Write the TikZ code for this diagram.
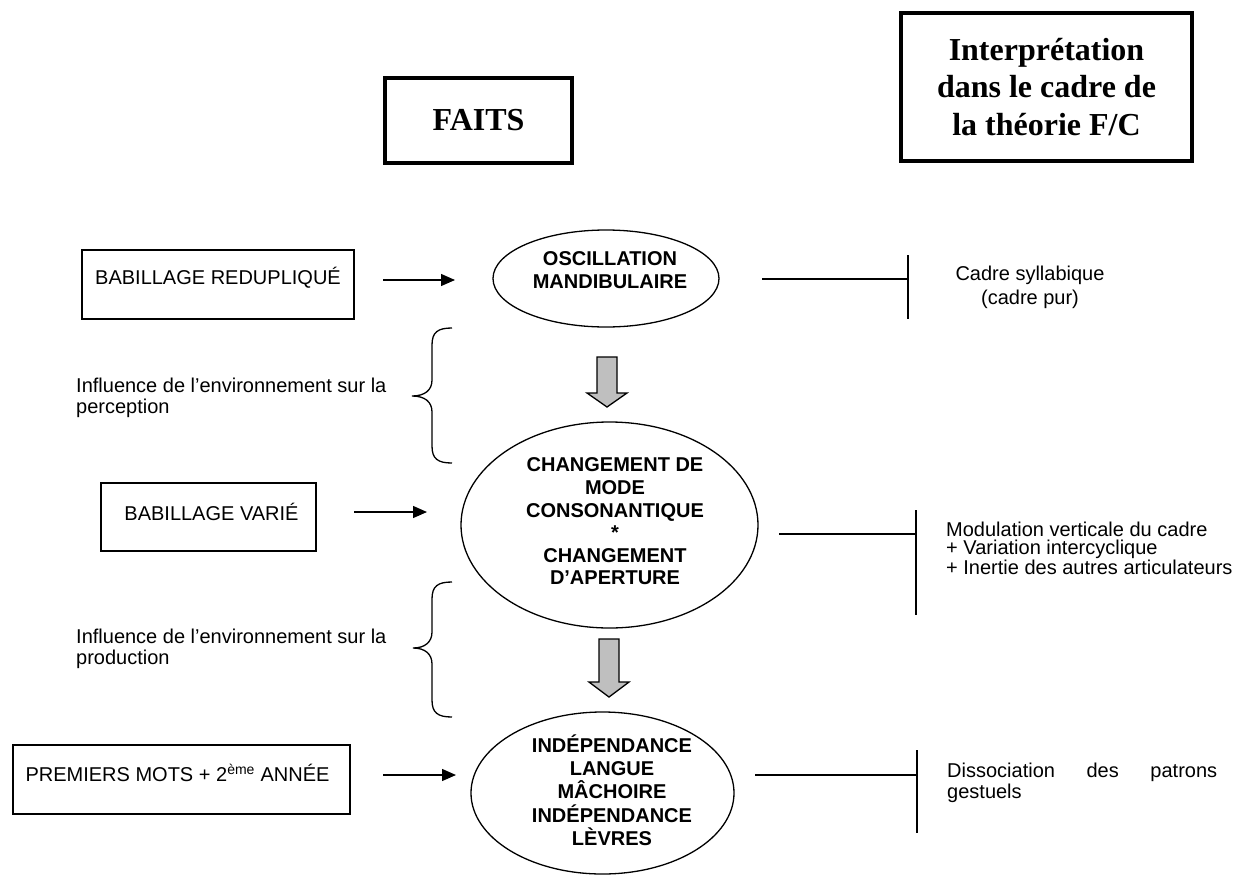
\documentclass[tikz,border=0pt]{standalone}
\usepackage{fontspec}
\setmainfont{Liberation Sans}
\newfontfamily\titlefont{Liberation Serif}
\usetikzlibrary{shapes.geometric,arrows.meta}
\begin{document}
\begin{tikzpicture}[x=1pt,y=-1pt,
  txt/.style={font=\fontsize{20}{21}\selectfont, inner sep=0pt},
  btxt/.style={font=\fontsize{20}{23}\selectfont\bfseries, inner sep=0pt, align=center},
  factbox/.style={draw, line width=1.3pt, inner sep=0pt},
  titlebox/.style={draw, line width=3.5pt, inner sep=0pt, font=\titlefont\bfseries\fontsize{32}{37.5}\selectfont, align=center},
  oval/.style={draw, ellipse, line width=1.3pt, inner sep=0pt},
  arr/.style={line width=1.3pt, -{Triangle[length=14pt,width=12pt]}},
  tline/.style={line width=1.3pt},
  tbar/.style={line width=1.8pt},
  bigarrow/.style={draw, line width=1.3pt, fill=black!25},
  bracestyle/.style={line width=1.3pt}
]
\useasboundingbox[fill=white] (0,0) rectangle (1235,876);

% titles
\node[titlebox, minimum width=187pt, minimum height=85pt] (faits) at (478.5,120.5) {FAITS};
\node[titlebox, minimum width=291pt, minimum height=148pt] (interp) at (1046.5,87) {Interprétation\\dans le cadre de\\la théorie F/C};

% left boxes
\node[factbox, minimum width=272pt, minimum height=69pt] (b1) at (218,284.5) {};
\node[txt] (b1t) at (218,278) {BABILLAGE REDUPLIQUÉ};
\node[factbox, minimum width=215pt, minimum height=68pt] (b2) at (208.5,517) {};
\node[txt] (b2t) at (211.5,512) {BABILLAGE VARIÉ};
\node[factbox, minimum width=337pt, minimum height=69pt] (b3) at (181.5,779.5) {};
\node[txt] (b3t) at (177.5,773) {PREMIERS MOTS + 2\textsuperscript{ème} ANNÉE};

% ellipses
\node[oval, minimum width=226pt, minimum height=97pt] (e1) at (606,278.5) {};
\node[btxt] (e1t) at (610,270.5) {OSCILLATION\\MANDIBULAIRE};
\node[oval, minimum width=297pt, minimum height=206pt] (e2) at (609.5,525) {};
\node[btxt, font=\fontsize{20}{22.6}\selectfont\bfseries] (e2t) at (615,521.5) {CHANGEMENT DE\\MODE\\CONSONANTIQUE\\*\\CHANGEMENT\\D’APERTURE};
\node[oval, minimum width=263pt, minimum height=162pt] (e3) at (602.5,793) {};
\node[btxt, font=\fontsize{20}{23.3}\selectfont\bfseries] (e3t) at (612,790) {INDÉPENDANCE\\LANGUE\\MÂCHOIRE\\INDÉPENDANCE\\LÈVRES};

% influence texts
\node[txt, anchor=west, align=left] (inf1) at (76,397.5) {Influence de l’environnement sur la\\perception};
\node[txt, anchor=west, align=left] (inf2) at (76,649) {Influence de l’environnement sur la\\production};

% right texts
\node[txt, align=center, font=\fontsize{20}{24}\selectfont] (r1t) at (1030,287) {Cadre syllabique\\(cadre pur)};
\node[txt, anchor=west, align=left, font=\fontsize{20}{18.5}\selectfont] (r2t) at (946,548) {Modulation verticale du cadre\\+ Variation intercyclique\\+ Inertie des autres articulateurs};
\node[txt, anchor=west, align=left] (r3t) at (947,782.5) {\makebox[270pt][s]{Dissociation\hfill des\hfill patrons}\\gestuels};

% horizontal arrows
\coordinate (a1s) at (383,280); \coordinate (a1e) at (455,280);
\coordinate (a2s) at (354,512); \coordinate (a2e) at (427,512);
\coordinate (a3s) at (383,775); \coordinate (a3e) at (456,775);
\draw[arr] (a1s) -- (a1e);
\draw[arr] (a2s) -- (a2e);
\draw[arr] (a3s) -- (a3e);

% right T connectors
\coordinate (t1s) at (762,279); \coordinate (t1e) at (908,279);
\coordinate (t1a) at (908,255); \coordinate (t1b) at (908,319);
\coordinate (t2s) at (779,534); \coordinate (t2e) at (916,534);
\coordinate (t2a) at (916,510); \coordinate (t2b) at (916,615);
\coordinate (t3s) at (755,775); \coordinate (t3e) at (917,775);
\coordinate (t3a) at (917,750); \coordinate (t3b) at (917,833);
\draw[tline] (t1s) -- (t1e); \draw[tbar] (t1a) -- (t1b);
\draw[tline] (t2s) -- (t2e); \draw[tbar] (t2a) -- (t2b);
\draw[tline] (t3s) -- (t3e); \draw[tbar] (t3a) -- (t3b);

% block arrows
\draw[bigarrow] (597,357) -- (617,357) -- (617,393) -- (627,393) -- (607,407) -- (587,393) -- (597,393) -- cycle;
\draw[bigarrow] (599,639) -- (619,639) -- (619,682) -- (629,682) -- (609,697) -- (589,682) -- (599,682) -- cycle;

% braces
\draw[bracestyle] (452,328) .. controls (438,328) and (432,332) .. (432,345) -- (432,380)
  .. controls (432,390) and (425,396) .. (412,396) .. controls (425,396) and (432,402) .. (432,412)
  -- (432,446) .. controls (432,459) and (438,463) .. (452,463);
\draw[bracestyle] (452,582) .. controls (438,582) and (432,586) .. (432,599) -- (432,632)
  .. controls (432,642) and (425,648) .. (413,648) .. controls (425,648) and (432,654) .. (432,664)
  -- (432,700) .. controls (432,713) and (438,717) .. (452,717);
\end{tikzpicture}
\end{document}
